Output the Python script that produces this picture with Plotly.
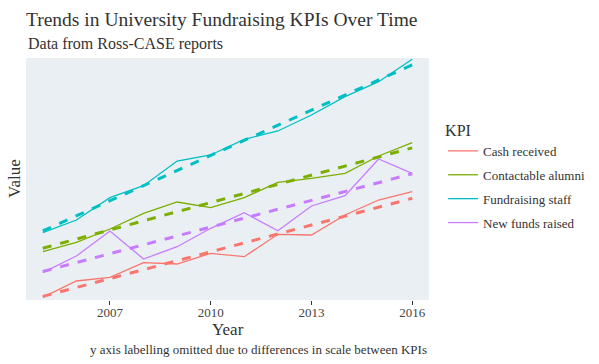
import numpy as np
import plotly.graph_objects as go

years = list(range(2005, 2017))
kpis = ["Cash received", "Contactable alumni", "Fundraising staff", "New funds raised"]
colors = ["#F8766D", "#7CAE00", "#00BFC4", "#C77CFF"]

# relative (unitless) values
cash_received = [2.7, 19.0, 22.7, 37.3, 36.0, 46.7, 43.3, 65.7, 65.0, 85.0, 100.0, 108.3]
contactable_alumni = [48.3, 57.7, 71.0, 86.7, 98.0, 92.3, 102.3, 117.7, 121.7, 126.7, 144.0, 157.3]
fundraising_staff = [67.3, 80.0, 102.3, 114.3, 139.0, 145.0, 160.7, 169.0, 185.0, 203.3, 218.3, 240.7]
new_funds_raised = [27.3, 44.0, 69.0, 41.0, 53.3, 71.7, 87.3, 69.3, 94.0, 104.3, 141.0, 126.7]

series = [cash_received, contactable_alumni, fundraising_staff, new_funds_raised]

FONT = "Liberation Serif, Times New Roman, serif"
fig = go.Figure()
for name, vals, col in zip(kpis, series, colors):
    fig.add_trace(go.Scatter(x=years, y=vals, mode="lines", name=name,
                             line=dict(color=col, width=1.3), legendgroup=name))
for name, vals, col in zip(kpis, series, colors):
    slope, intercept = np.polyfit(years, vals, 1)
    fit = [slope * yr + intercept for yr in years]
    fig.add_trace(go.Scatter(x=years, y=fit, mode="lines", name=name,
                             line=dict(color=col, width=3, dash="dash"),
                             showlegend=False, legendgroup=name, hoverinfo="skip"))

W, H = 599, 364
fig.update_layout(
    width=W, height=H,
    margin=dict(l=26, r=170, t=58, b=64, autoexpand=False),
    paper_bgcolor="white",
    plot_bgcolor="#EAEFF4",
    font=dict(family=FONT, color="#333333", size=13),
    title=dict(text="Trends in University Fundraising KPIs Over Time",
               x=26 / W, xanchor="left", y=1 - 19 / H, yanchor="middle",
               font=dict(size=19.5, family=FONT, color="#333333")),
    showlegend=True,
    legend=dict(title=dict(text="KPI", font=dict(size=16, family=FONT)),
                x=1.035, xanchor="left", y=0.764, yanchor="top",
                font=dict(size=13, family=FONT), tracegroupgap=4,
                itemwidth=30,
                bgcolor="rgba(0,0,0,0)"),
    annotations=[
        dict(text="Data from Ross-CASE reports", xref="paper", yref="paper",
             x=0, xanchor="left", y=1 + 14 / 242, yanchor="middle",
             showarrow=False, font=dict(size=16, family=FONT, color="#333333")),
        dict(text="y axis labelling omitted due to differences in scale between KPIs",
             xref="paper", yref="paper", x=1, xanchor="right",
             y=-49 / 242, yanchor="middle", showarrow=False,
             font=dict(size=13, family=FONT, color="#333333")),
        dict(text="Year", xref="paper", yref="paper", x=0.5, xanchor="center",
             y=-29 / 242, yanchor="middle", showarrow=False,
             font=dict(size=17, family=FONT, color="#333333")),
        dict(text="Value", xref="paper", yref="paper", x=-12 / 403, xanchor="center",
             y=0.5, yanchor="middle", showarrow=False, textangle=-90,
             font=dict(size=17, family=FONT, color="#333333")),
    ],
)
fig.update_xaxes(
    tickvals=[2007, 2010, 2013, 2016], ticktext=["2007", "2010", "2013", "2016"],
    ticks="outside", ticklen=4, tickcolor="#333333", showgrid=False, zeroline=False,
    showline=False, range=[2004.5, 2016.5], automargin=False,
    ticklabelstandoff=-4,
    tickfont=dict(size=13, color="#444444", family=FONT),
)
fig.update_yaxes(
    showticklabels=False, ticks="", showgrid=False, zeroline=False, showline=False,
    range=[0, 242], automargin=False,
)
fig.write_html("out.html", config={"displayModeBar": False},
               post_script="document.body.style.margin='0';")
